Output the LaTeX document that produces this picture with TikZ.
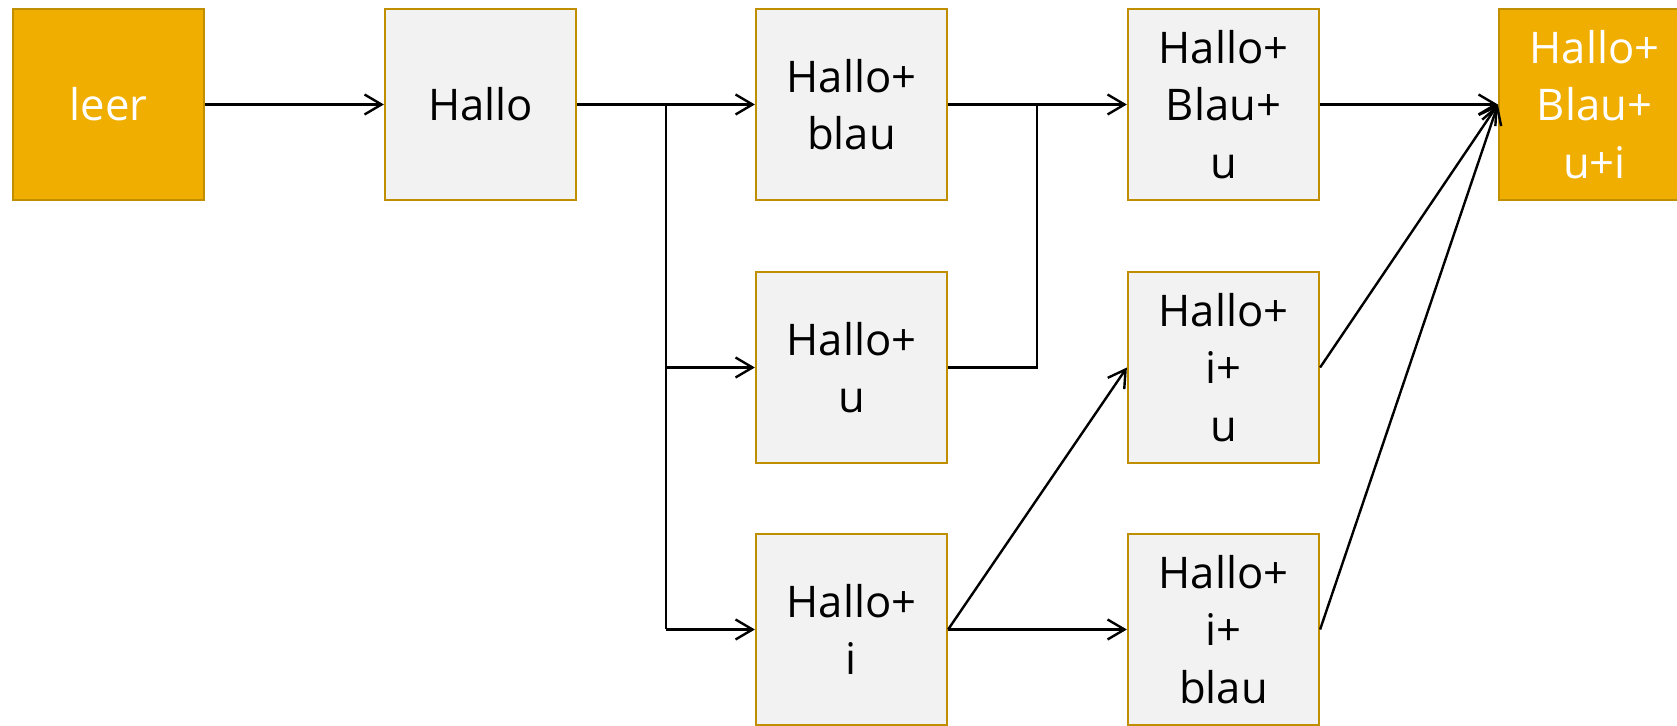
\documentclass[tikz,border=0pt]{standalone}
\usepackage{fontspec}
\setmainfont{Open Sans}
\usetikzlibrary{arrows.meta}
\definecolor{orfill}{HTML}{F0AE00}
\definecolor{bordc}{HTML}{BF8F00}
\definecolor{grfill}{HTML}{F2F2F2}
\tikzset{
  box/.style={draw=bordc, line width=1.1pt, minimum width=95.5pt, minimum height=95.5pt, inner sep=0pt, align=center, font=\fontsize{21.8}{28.75}\selectfont},
  grbox/.style={box, fill=grfill, text=black},
  orbox/.style={box, fill=orfill, text=white},
  conn/.style={line width=1.2pt, black},
  arr/.style={conn, -{Straight Barb[length=8.5pt,width=10pt,line width=1.2pt]}}
}
\begin{document}
\begin{tikzpicture}[x=0.5pt,y=-0.5pt]
\useasboundingbox (0,0) rectangle (1677,726);
\node[orbox] (leer) at (108.5,104.5) {leer};
\node[grbox] (hallo) at (480.5,104.5) {Hallo};
\node[grbox] (blau) at (851.5,104.5) {Hallo+\\blau};
\node[grbox] (u) at (851.5,367.5) {Hallo+\\u};
\node[grbox] (i) at (851.5,629.5) {Hallo+\\i};
\node[grbox] (bu) at (1223.5,104.5) {Hallo+\\Blau+\\u};
\node[grbox] (iu) at (1223.5,367.5) {Hallo+\\i+\\u};
\node[grbox] (ib) at (1223.5,629.5) {Hallo+\\i+\\blau};
\node[orbox] (fin) at (1594.5,104.5) {Hallo+\\Blau+\\u+i};
\coordinate (j1) at (666,104.5);
\coordinate (j1b) at (666,629.5);
\coordinate (j2) at (1037,104.5);
\draw[arr] (leer.east) -- (hallo.west);
\draw[conn] (hallo.east) -- (j1) -- (j1b);
\draw[arr] (j1) -- (blau.west);
\draw[arr] (j1 |- u.west) -- (u.west);
\draw[arr] (j1b) -- (i.west);
\draw[arr] (blau.east) -- (bu.west);
\draw[conn] (u.east) -| (j2);
\draw[arr] (i.east) -- (iu.west);
\draw[arr] (i.east) -- (ib.west);
\draw[arr] (bu.east) -- (fin.west);
\draw[arr] (iu.east) -- (fin.west);
\draw[arr] (ib.east) -- (fin.west);
\end{tikzpicture}
\end{document}
